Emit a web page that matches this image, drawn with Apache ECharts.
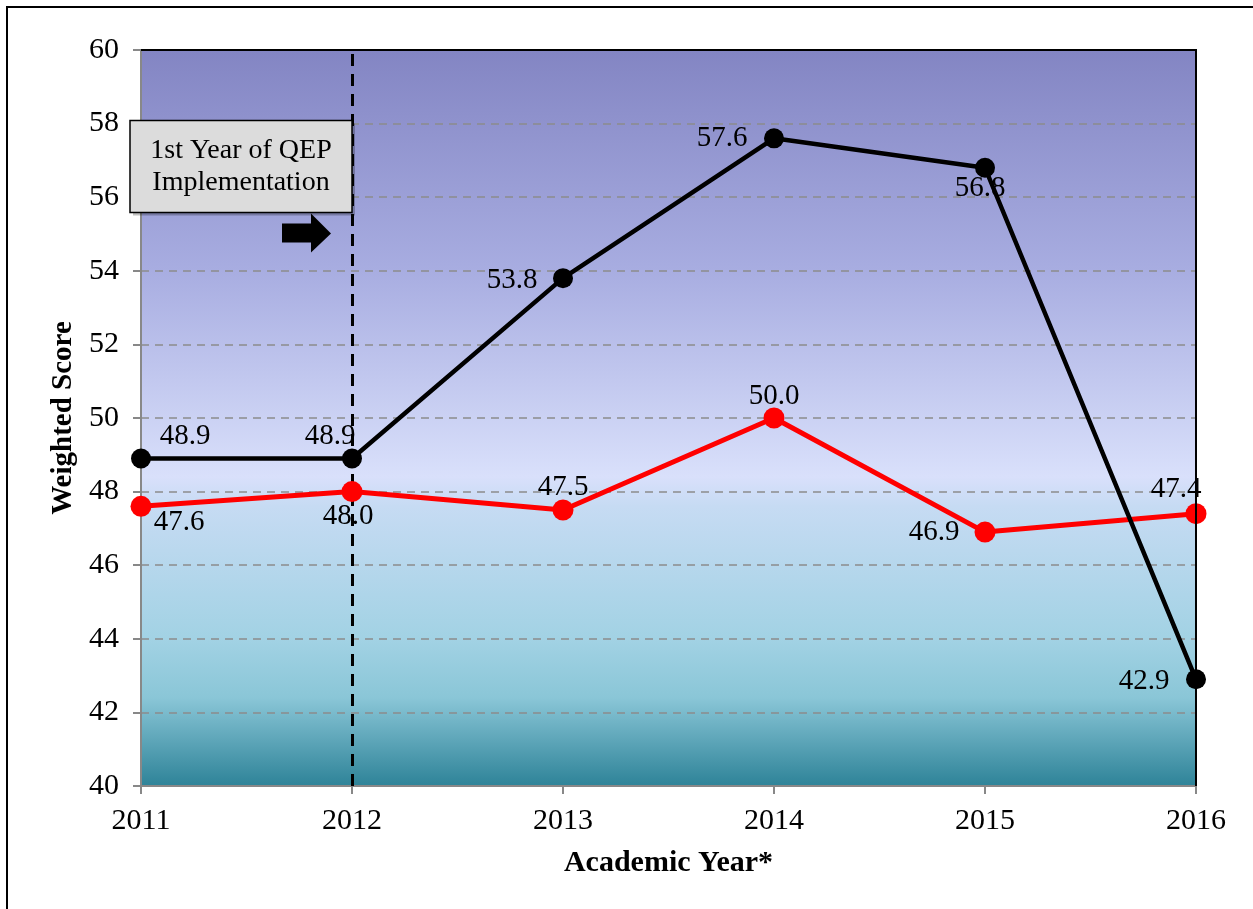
<!DOCTYPE html>
<html>
<head>
<meta charset="utf-8">
<script src="https://cdn.jsdelivr.net/npm/echarts@6/dist/echarts.min.js"></script>
<style>
  html, body { margin: 0; padding: 0; background: #fff; }
  #chart { width: 1253px; height: 909px; }
</style>
</head>
<body>
<div id="chart"></div>
<script>
// data
const years = ['2011', '2012', '2013', '2014', '2015', '2016']
const blackScores = [48.9, 48.9, 53.8, 57.6, 56.8, 42.9]
const redScores = [47.6, 48.0, 47.5, 50.0, 46.9, 47.4]
const qepStartYear = '2012'

// label offsets from the point centre (px)
const blackOffsets = [[44, -22], [-22, -22], [-51, 2], [-52, 0], [-5, 21], [-52, 2]]
const redOffsets = [[38, 16], [-4, 25], [0, -23], [0, -22], [-51, 0], [-20, -24]]

const FONT = "'Liberation Serif', 'Times New Roman', serif"

const chart = echarts.init(document.getElementById('chart'), null, { renderer: 'canvas' })

function withLabels(values, offsets) {
  return values.map((v, i) => ({
    value: v,
    label: { offset: offsets[i] },
  }))
}

const bg = new echarts.graphic.LinearGradient(0, 0, 0, 1, [
  { offset: 0, color: '#8385c3' },
  { offset: 0.3, color: '#a8ade1' },
  { offset: 0.58, color: '#d9e0fb' },
  { offset: 0.62, color: '#c6dbf3' },
  { offset: 0.8, color: '#a2d2e4' },
  { offset: 0.88, color: '#8ac6d7' },
  { offset: 1, color: '#2e8398' },
])

const labelBase = {
  show: true,
  position: 'inside',
  color: '#000',
  fontFamily: FONT,
  fontSize: 29,
  formatter: (p) => p.value.toFixed(1),
}

const option = {
  animation: false,
  backgroundColor: '#fff',
  grid: {
    left: 141, right: 57, top: 50, bottom: 123,
    show: true,
    backgroundColor: bg,
    borderWidth: 0,
  },
  xAxis: {
    type: 'category',
    data: years,
    boundaryGap: false,
    name: 'Academic Year*',
    nameLocation: 'middle',
    nameGap: 62,
    nameTextStyle: { fontFamily: FONT, fontSize: 30, fontWeight: 'bold', color: '#000' },
    axisLine: { lineStyle: { color: '#888', width: 2 } },
    axisTick: { show: true, length: 8, alignWithLabel: true, lineStyle: { color: '#888', width: 2 } },
    axisLabel: { color: '#000', fontFamily: FONT, fontSize: 30, margin: 20 },
    splitLine: { show: false },
  },
  yAxis: {
    type: 'value',
    min: 40, max: 60, interval: 2,
    name: 'Weighted Score',
    nameLocation: 'middle',
    nameGap: 62,
    nameRotate: 90,
    nameTextStyle: { fontFamily: FONT, fontSize: 29, fontWeight: 'bold', color: '#000' },
    axisLine: { show: true, lineStyle: { color: '#888', width: 2 } },
    axisTick: { show: true, length: 8, lineStyle: { color: '#888', width: 2 } },
    axisLabel: { color: '#000', fontFamily: FONT, fontSize: 30, margin: 22 },
    splitLine: { show: true, lineStyle: { color: '#8c8c8c', width: 1.5, type: [8, 6] } },
  },
  series: [
    {
      name: 'red',
      type: 'line',
      data: withLabels(redScores, redOffsets),
      symbol: 'circle',
      symbolSize: 21,
      itemStyle: { color: '#ff0000' },
      lineStyle: { color: '#ff0000', width: 5 },
      label: labelBase,
      z: 3,
    },
    {
      name: 'black',
      type: 'line',
      data: withLabels(blackScores, blackOffsets),
      symbol: 'circle',
      symbolSize: 20,
      itemStyle: { color: '#000' },
      lineStyle: { color: '#000', width: 4.5 },
      label: labelBase,
      z: 4,
      markLine: {
        silent: true,
        symbol: 'none',
        label: { show: false },
        lineStyle: { color: '#000', width: 3, type: [12, 8] },
        data: [{ xAxis: qepStartYear }],
        z: 2,
      },
    },
  ],
}

chart.setOption(option)

// plot frame (top/right black), annotation box + arrow, placed from the axes
const xq = chart.convertToPixel({ xAxisIndex: 0 }, qepStartYear)
const xLast = chart.convertToPixel({ xAxisIndex: 0 }, years[years.length - 1])
const xFirst = chart.convertToPixel({ xAxisIndex: 0 }, years[0])
const yTop = chart.convertToPixel({ yAxisIndex: 0 }, 60)
const yBottom = chart.convertToPixel({ yAxisIndex: 0 }, 40)
const y58 = chart.convertToPixel({ yAxisIndex: 0 }, 58)
const boxTop = y58 - 3
chart.setOption({
  graphic: [
    {
      type: 'rect',
      shape: { x: 7, y: 7, width: 1300, height: 1000 },
      style: { fill: 'none', stroke: '#000', lineWidth: 2 },
      silent: true,
      z: 100,
    },
    {
      type: 'polyline',
      shape: { points: [[xFirst, yTop], [xLast, yTop], [xLast, yBottom]] },
      style: { stroke: '#000', lineWidth: 2, fill: 'none' },
      silent: true,
      z: 100,
    },
    {
      type: 'rect',
      shape: { x: 133, y: boxTop + 3, width: xq - 130, height: 92 },
      style: { fill: 'rgba(0,0,0,0.25)' },
      z: 100,
    },
    {
      type: 'rect',
      shape: { x: 130, y: boxTop, width: xq - 130, height: 92 },
      style: { fill: '#dcdcdc', stroke: '#000', lineWidth: 1.5 },
      z: 101,
    },
    {
      type: 'text',
      x: (130 + xq) / 2,
      y: boxTop + 46,
      style: {
        text: '1st Year of QEP\nImplementation',
        font: '28px ' + FONT,
        fill: '#000',
        align: 'center',
        verticalAlign: 'middle',
        lineHeight: 32,
      },
      z: 102,
    },
    {
      type: 'polygon',
      shape: {
        points: [
          [xq - 70, boxTop + 103], [xq - 41, boxTop + 103], [xq - 41, boxTop + 93],
          [xq - 21, boxTop + 113], [xq - 41, boxTop + 132], [xq - 41, boxTop + 122],
          [xq - 70, boxTop + 122],
        ],
      },
      style: { fill: '#000' },
      z: 101,
    },
  ],
})
</script>
</body>
</html>
